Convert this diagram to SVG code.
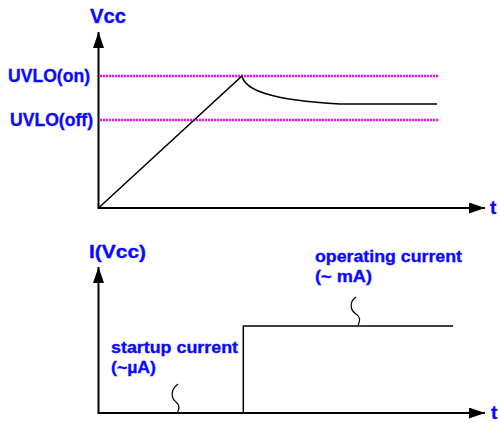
<svg xmlns="http://www.w3.org/2000/svg" width="499" height="423" viewBox="0 0 499 423">
<style>
.lbl{font-family:"Liberation Sans",Arial,sans-serif;font-weight:bold;fill:#0a0aff;stroke:#0a0aff;stroke-width:0.35}
.ax{stroke:#000;stroke-width:2;fill:none}
.ln{stroke:#000;stroke-width:1.5;fill:none}
.th{stroke:#ff00ff;stroke-width:2.4;stroke-dasharray:2 1;fill:none}
.sq{stroke:#000;stroke-width:1.2;fill:none}
</style>
<defs>
<marker id="ah" viewBox="0 0 16 11" refX="16" refY="5.5" markerWidth="16" markerHeight="11" markerUnits="userSpaceOnUse" orient="auto">
<path d="M0,0 L16,5.5 L0,11 Z" fill="#000"/>
</marker>
</defs>
<g id="connectors">
<line class="ax" x1="98.5" y1="208" x2="98.5" y2="32" marker-end="url(#ah)"/>
<line class="ax" x1="97.5" y1="208" x2="485" y2="208" marker-end="url(#ah)"/>
<line class="ax" x1="98.5" y1="413" x2="98.5" y2="267" marker-end="url(#ah)"/>
<line class="ax" x1="97.5" y1="413" x2="485" y2="413" marker-end="url(#ah)"/>
</g>
<g id="thresholds">
<line class="th" x1="100" y1="76" x2="438" y2="76"/>
<line class="th" x1="100" y1="120" x2="438" y2="120"/>
</g>
<g id="vcc-curve">
<path class="ln" d="M98.5,208 L242,76 C245,90 270,100 340,104 L437,104"/>
</g>
<g id="ivcc-curve">
<path class="ln" d="M243.3,413 L243.3,326 L453,326"/>
</g>
<g id="squiggles">
<path class="sq" d="M178,384 C170,390 171,398 176,402 C181,406 179,410 177,413"/>
<path class="sq" d="M356,297 C349,302 350,310 356,314 C362,318 359,322 358,326"/>
</g>
<g id="labels">
<text class="lbl" x="90" y="23" font-size="20" textLength="36" lengthAdjust="spacingAndGlyphs">Vcc</text>
<text class="lbl" x="8" y="81.5" font-size="17.5" textLength="82" lengthAdjust="spacingAndGlyphs">UVLO(on)</text>
<text class="lbl" x="10" y="125.5" font-size="17.5" textLength="83" lengthAdjust="spacingAndGlyphs">UVLO(off)</text>
<text class="lbl" x="490" y="214" font-size="19">t</text>
<text class="lbl" x="89" y="258" font-size="19" textLength="57" lengthAdjust="spacingAndGlyphs">I(Vcc)</text>
<text class="lbl" x="315" y="262" font-size="16.5" textLength="147" lengthAdjust="spacingAndGlyphs">operating current</text>
<text class="lbl" x="315" y="282" font-size="16.5" textLength="57" lengthAdjust="spacingAndGlyphs">(~ mA)</text>
<text class="lbl" x="111" y="352.5" font-size="16.5" textLength="127" lengthAdjust="spacingAndGlyphs">startup current</text>
<text class="lbl" x="111" y="373" font-size="16.5" textLength="45" lengthAdjust="spacingAndGlyphs">(~µA)</text>
<text class="lbl" x="491" y="419" font-size="19">t</text>
</g>
</svg>
